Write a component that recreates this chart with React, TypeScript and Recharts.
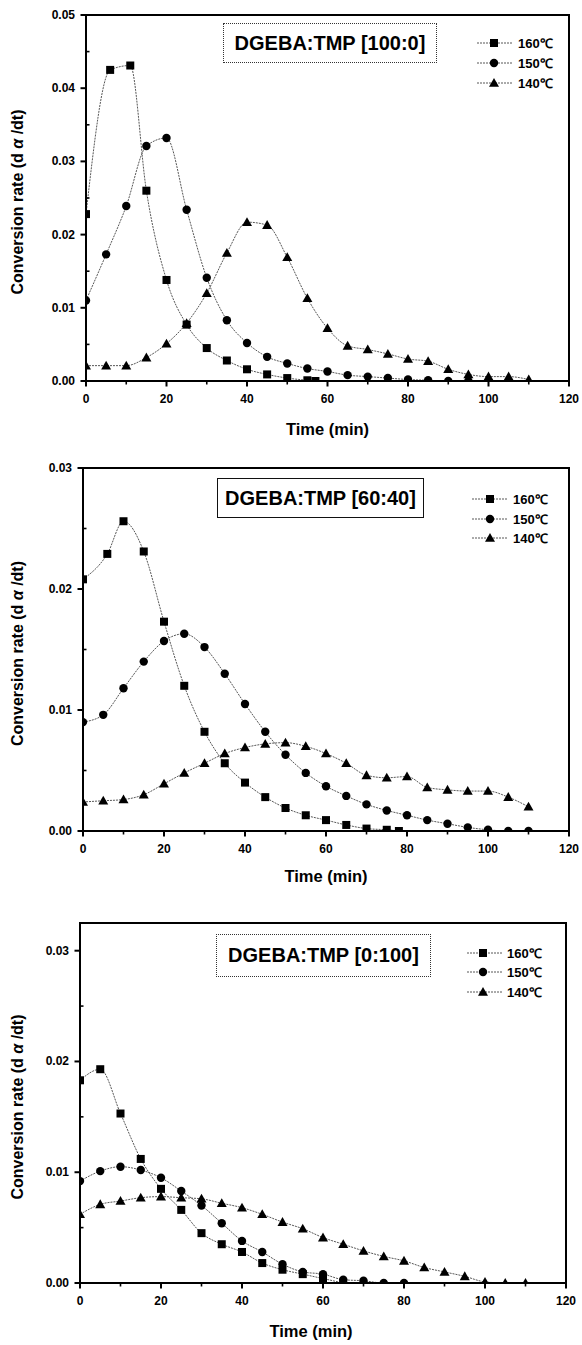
import React from 'react';
import { LineChart, Line, XAxis, YAxis, ReferenceArea } from 'recharts';

const FONT = '"Liberation Sans", Arial, Helvetica, sans-serif';

// ---------- Data ----------
const seriesNames = ['160℃', '150℃', '140℃'];
const xTicks = [0, 10, 20, 30, 40, 50, 60, 70, 80, 90, 100, 110, 120];

// Panel A: DGEBA:TMP [100:0]
const tA160 = [0, 6, 11, 15, 20, 25, 30, 35, 40, 45, 50, 55, 57];
const rA160 = [0.0228, 0.0425, 0.0431, 0.026, 0.0138, 0.0077, 0.0045, 0.0028, 0.0016, 0.0009, 0.0004, 0.0001, 0.0];
const tA150 = [0, 5, 10, 15, 20, 25, 30, 35, 40, 45, 50, 55, 60, 65, 70, 75, 80, 85, 90, 95, 100, 105];
const rA150 = [0.011, 0.0173, 0.0239, 0.0321, 0.0332, 0.0234, 0.0141, 0.0083, 0.0052, 0.0033, 0.0024, 0.0017, 0.0013, 0.0008, 0.0006, 0.0004, 0.0002, 0.0001, 0.0, 0.0, 0.0, 0.0];
const tA140 = [0, 5, 10, 15, 20, 25, 30, 35, 40, 45, 50, 55, 60, 65, 70, 75, 80, 85, 90, 95, 100, 105, 110];
const rA140 = [0.0021, 0.0021, 0.0021, 0.0032, 0.0051, 0.0079, 0.012, 0.0175, 0.0217, 0.0213, 0.0169, 0.0113, 0.0072, 0.0048, 0.0043, 0.0037, 0.003, 0.0027, 0.0016, 0.0009, 0.0006, 0.0006, 0.0002];
const yTicksA = [0, 0.005, 0.01, 0.015, 0.02, 0.025, 0.03, 0.035, 0.04, 0.045, 0.05];

// Panel B: DGEBA:TMP [60:40]
const tB160 = [0, 6, 10, 15, 20, 25, 30, 35, 40, 45, 50, 55, 60, 65, 70, 75, 78];
const rB160 = [0.0208, 0.0229, 0.0256, 0.0231, 0.0173, 0.012, 0.0082, 0.0056, 0.004, 0.0028, 0.0019, 0.0013, 0.0009, 0.0005, 0.0002, 0.0001, 0.0];
const tB150 = [0, 5, 10, 15, 20, 25, 30, 35, 40, 45, 50, 55, 60, 65, 70, 75, 80, 85, 90, 95, 100, 105, 110];
const rB150 = [0.009, 0.0096, 0.0118, 0.014, 0.0157, 0.0163, 0.0152, 0.013, 0.0105, 0.0082, 0.0063, 0.0048, 0.0037, 0.0029, 0.0022, 0.0017, 0.0013, 0.0009, 0.0006, 0.0003, 0.0001, 0.0, 0.0];
const tB140 = [0, 5, 10, 15, 20, 25, 30, 35, 40, 45, 50, 55, 60, 65, 70, 75, 80, 85, 90, 95, 100, 105, 110];
const rB140 = [0.0024, 0.0025, 0.0026, 0.003, 0.0039, 0.0048, 0.0056, 0.0064, 0.0069, 0.0072, 0.0073, 0.007, 0.0064, 0.0056, 0.0046, 0.0044, 0.0045, 0.0036, 0.0034, 0.0033, 0.0033, 0.0028, 0.002];
const yTicksB = [0, 0.005, 0.01, 0.015, 0.02, 0.025, 0.03];

// Panel C: DGEBA:TMP [0:100]
const tC160 = [0, 5, 10, 15, 20, 25, 30, 35, 40, 45, 50, 55, 60, 65];
const rC160 = [0.0183, 0.0193, 0.0153, 0.0112, 0.0085, 0.0066, 0.0045, 0.0035, 0.0028, 0.0018, 0.0012, 0.0008, 0.0004, 0.0];
const tC150 = [0, 5, 10, 15, 20, 25, 30, 35, 40, 45, 50, 55, 60, 65, 70, 75, 80];
const rC150 = [0.0092, 0.0101, 0.0105, 0.0102, 0.0095, 0.0083, 0.007, 0.0054, 0.0038, 0.0028, 0.0017, 0.001, 0.0008, 0.0003, 0.0002, 0.0, 0.0];
const tC140 = [0, 5, 10, 15, 20, 25, 30, 35, 40, 45, 50, 55, 60, 65, 70, 75, 80, 85, 90, 95, 100, 105, 110];
const rC140 = [0.0062, 0.0071, 0.0074, 0.0077, 0.0078, 0.0077, 0.0076, 0.0072, 0.0068, 0.0062, 0.0055, 0.0049, 0.0041, 0.0035, 0.0029, 0.0024, 0.002, 0.0014, 0.001, 0.0006, 0.0001, 0.0, 0.0];
const yTicksC = [0, 0.005, 0.01, 0.015, 0.02, 0.025, 0.03];

const zip = (t: number[], r: number[]) => t.map((x, i) => ({ x, y: r[i] }));

type Shape = 'square' | 'circle' | 'triangle';
const shapes: Shape[] = ['square', 'circle', 'triangle'];

const Marker = ({ shape, cx, cy }: { shape: Shape; cx: number; cy: number }) => {
  if (cx == null || cy == null || isNaN(cx) || isNaN(cy)) return null;
  if (shape === 'square') return <rect x={cx - 4} y={cy - 4} width={8} height={8} fill="#000" />;
  if (shape === 'circle') return <circle cx={cx} cy={cy} r={4.2} fill="#000" />;
  return <polygon points={`${cx},${cy - 5} ${cx + 5},${cy + 3.8} ${cx - 5},${cy + 3.8}`} fill="#000" />;
};

const isMajor = (v: number, step: number) => Math.abs(v / step - Math.round(v / step)) < 1e-6;

const XTick = (p: any) => {
  const v = p.payload.value;
  const major = isMajor(v, 20);
  return (
    <g>
      <line x1={p.x} x2={p.x} y1={p.y} y2={p.y + (major ? 5.5 : 3.5)} stroke="#000" strokeWidth={major ? 2 : 1.6} />
      {major && (
        <text x={p.x} y={p.y + 22} textAnchor="middle" fontFamily={FONT} fontWeight="bold" fontSize={12} fill="#000">
          {v}
        </text>
      )}
    </g>
  );
};

const YTick = (p: any) => {
  const v = p.payload.value;
  const major = isMajor(v, 0.01);
  return (
    <g>
      <line x1={p.x - (major ? 5.5 : 0)} x2={p.x + (major ? 0 : 3.5)} y1={p.y} y2={p.y} stroke="#000" strokeWidth={major ? 2 : 1.6} />
      {major && (
        <text x={p.x - 11} y={p.y + 4} textAnchor="end" fontFamily={FONT} fontWeight="bold" fontSize={12} fill="#000">
          {v.toFixed(2)}
        </text>
      )}
    </g>
  );
};

interface PanelCfg {
  top: number;
  height: number;
  margin: { top: number; right: number; bottom: number; left: number };
  yWidth: number;
  xHeight: number;
  yMax: number;
  yTicks: number[];
  data: { x: number; y: number }[][];
  title: string;
  titleBox: { left: number; top: number; width: number; height: number; border: string };
  legend: { rows: number[]; lineX1: number; lineX2: number; markerX: number; textX: number };
  xLabelDy: number;
  xLabelDx: number;
}

const panels: PanelCfg[] = [
  {
    top: 0,
    height: 445,
    margin: { top: 15, right: 13, bottom: 4, left: 0 },
    yWidth: 86,
    xHeight: 60,
    yMax: 0.05,
    yTicks: yTicksA,
    data: [zip(tA160, rA160), zip(tA150, rA150), zip(tA140, rA140)],
    title: 'DGEBA:TMP [100:0]',
    titleBox: { left: 223, top: 23, width: 214, height: 40, border: '1px dotted #333' },
    legend: { rows: [43, 63, 83], lineX1: 477, lineX2: 513, markerX: 494, textX: 518 },
    xLabelDy: 54,
    xLabelDx: 0,
  },
  {
    top: 445,
    height: 445,
    margin: { top: 23, right: 13, bottom: 4, left: 0 },
    yWidth: 83,
    xHeight: 55,
    yMax: 0.03,
    yTicks: yTicksB,
    data: [zip(tB160, rB160), zip(tB150, rB150), zip(tB140, rB140)],
    title: 'DGEBA:TMP [60:40]',
    titleBox: { left: 217, top: 478, width: 207, height: 40, border: '1.5px solid #111' },
    legend: { rows: [499, 519, 538], lineX1: 472, lineX2: 507, markerX: 490, textX: 513 },
    xLabelDy: 51,
    xLabelDx: 0,
  },
  {
    top: 890,
    height: 455,
    margin: { top: 33, right: 16, bottom: 4, left: 0 },
    yWidth: 80,
    xHeight: 58,
    yMax: 0.0325,
    yTicks: yTicksC,
    data: [zip(tC160, rC160), zip(tC150, rC150), zip(tC140, rC140)],
    title: 'DGEBA:TMP [0:100]',
    titleBox: { left: 216, top: 934, width: 215, height: 43, border: '1px dotted #333' },
    legend: { rows: [953, 972, 992], lineX1: 467, lineX2: 502, markerX: 483, textX: 507 },
    xLabelDy: 54,
    xLabelDx: -12,
  },
];

const Panel = ({ cfg }: { cfg: PanelCfg }) => {
  const yTitle = (props: any) => {
    const vb = props.viewBox || {};
    const cx = 17;
    const cy = vb.y + vb.height / 2 + 4;
    return (
      <text
        x={cx}
        y={cy}
        transform={`rotate(-90 ${cx} ${cy})`}
        textAnchor="middle"
        dominantBaseline="central"
        fontFamily={FONT}
        fontWeight="bold"
        fontSize={16}
        fill="#000"
      >
        Conversion rate (d <tspan fontStyle="italic">α</tspan> /dt)
      </text>
    );
  };
  const xTitle = (props: any) => {
    const vb = props.viewBox || {};
    return (
      <text
        x={vb.x + vb.width / 2 + cfg.xLabelDx}
        y={vb.y + cfg.xLabelDy}
        textAnchor="middle"
        fontFamily={FONT}
        fontWeight="bold"
        fontSize={16.5}
        fill="#000"
      >
        Time (min)
      </text>
    );
  };
  return (
    <div style={{ position: 'absolute', left: 0, top: cfg.top, width: 582, height: cfg.height }}>
      <LineChart width={582} height={cfg.height} margin={cfg.margin}>
        <XAxis
          type="number"
          dataKey="x"
          domain={[0, 120]}
          ticks={xTicks}
          interval={0}
          tickSize={0}
          tickMargin={0}
          tickLine={false}
          height={cfg.xHeight}
          axisLine={{ stroke: '#000', strokeWidth: 2 }}
          tick={(p: any) => <XTick {...p} />}
          label={xTitle}
          allowDataOverflow
        />
        <YAxis
          type="number"
          dataKey="y"
          domain={[0, cfg.yMax]}
          ticks={cfg.yTicks}
          interval={0}
          tickSize={0}
          tickMargin={0}
          tickLine={false}
          width={cfg.yWidth}
          axisLine={{ stroke: '#000', strokeWidth: 2 }}
          tick={(p: any) => <YTick {...p} />}
          label={yTitle}
          allowDataOverflow
        />
        <ReferenceArea x1={0} x2={120} y1={0} y2={cfg.yMax} fill="none" stroke="#000" strokeWidth={2} ifOverflow="visible" />
        {cfg.data.map((d, i) => (
          <Line
            key={i}
            data={d}
            dataKey="y"
            type="monotone"
            stroke="#444"
            strokeWidth={0.9}
            strokeDasharray="2 1"
            isAnimationActive={false}
            legendType="none"
            dot={(p: any) => <Marker key={`m-${i}-${p.index}`} shape={shapes[i]} cx={p.cx} cy={p.cy} />}
            activeDot={false}
          />
        ))}
      </LineChart>
      <div
        style={{
          position: 'absolute',
          left: cfg.titleBox.left,
          top: cfg.titleBox.top - cfg.top,
          width: cfg.titleBox.width,
          height: cfg.titleBox.height,
          border: cfg.titleBox.border,
          boxSizing: 'border-box',
          display: 'flex',
          alignItems: 'center',
          justifyContent: 'center',
          fontFamily: FONT,
          fontWeight: 'bold',
          fontSize: 20,
          color: '#000',
          background: '#fff',
          whiteSpace: 'nowrap',
        }}
      >
        {cfg.title}
      </div>
      <svg
        width={582}
        height={cfg.height}
        style={{ position: 'absolute', left: 0, top: 0, pointerEvents: 'none' }}
      >
        {seriesNames.map((name, i) => {
          const y = cfg.legend.rows[i] - cfg.top;
          return (
            <g key={name}>
              <line x1={cfg.legend.lineX1} x2={cfg.legend.lineX2} y1={y} y2={y} stroke="#444" strokeWidth={0.9} strokeDasharray="2 1" />
              <Marker shape={shapes[i]} cx={cfg.legend.markerX} cy={y} />
              <text x={cfg.legend.textX} y={y + 4.5} fontFamily={FONT} fontWeight="bold" fontSize={13} fill="#000">
                {name}
              </text>
            </g>
          );
        })}
      </svg>
    </div>
  );
};

export default function App() {
  return (
    <div style={{ position: 'absolute', left: 0, top: 0, width: 582, height: 1345, background: '#fff' }}>
      {panels.map((p, i) => (
        <Panel key={i} cfg={p} />
      ))}
    </div>
  );
}
